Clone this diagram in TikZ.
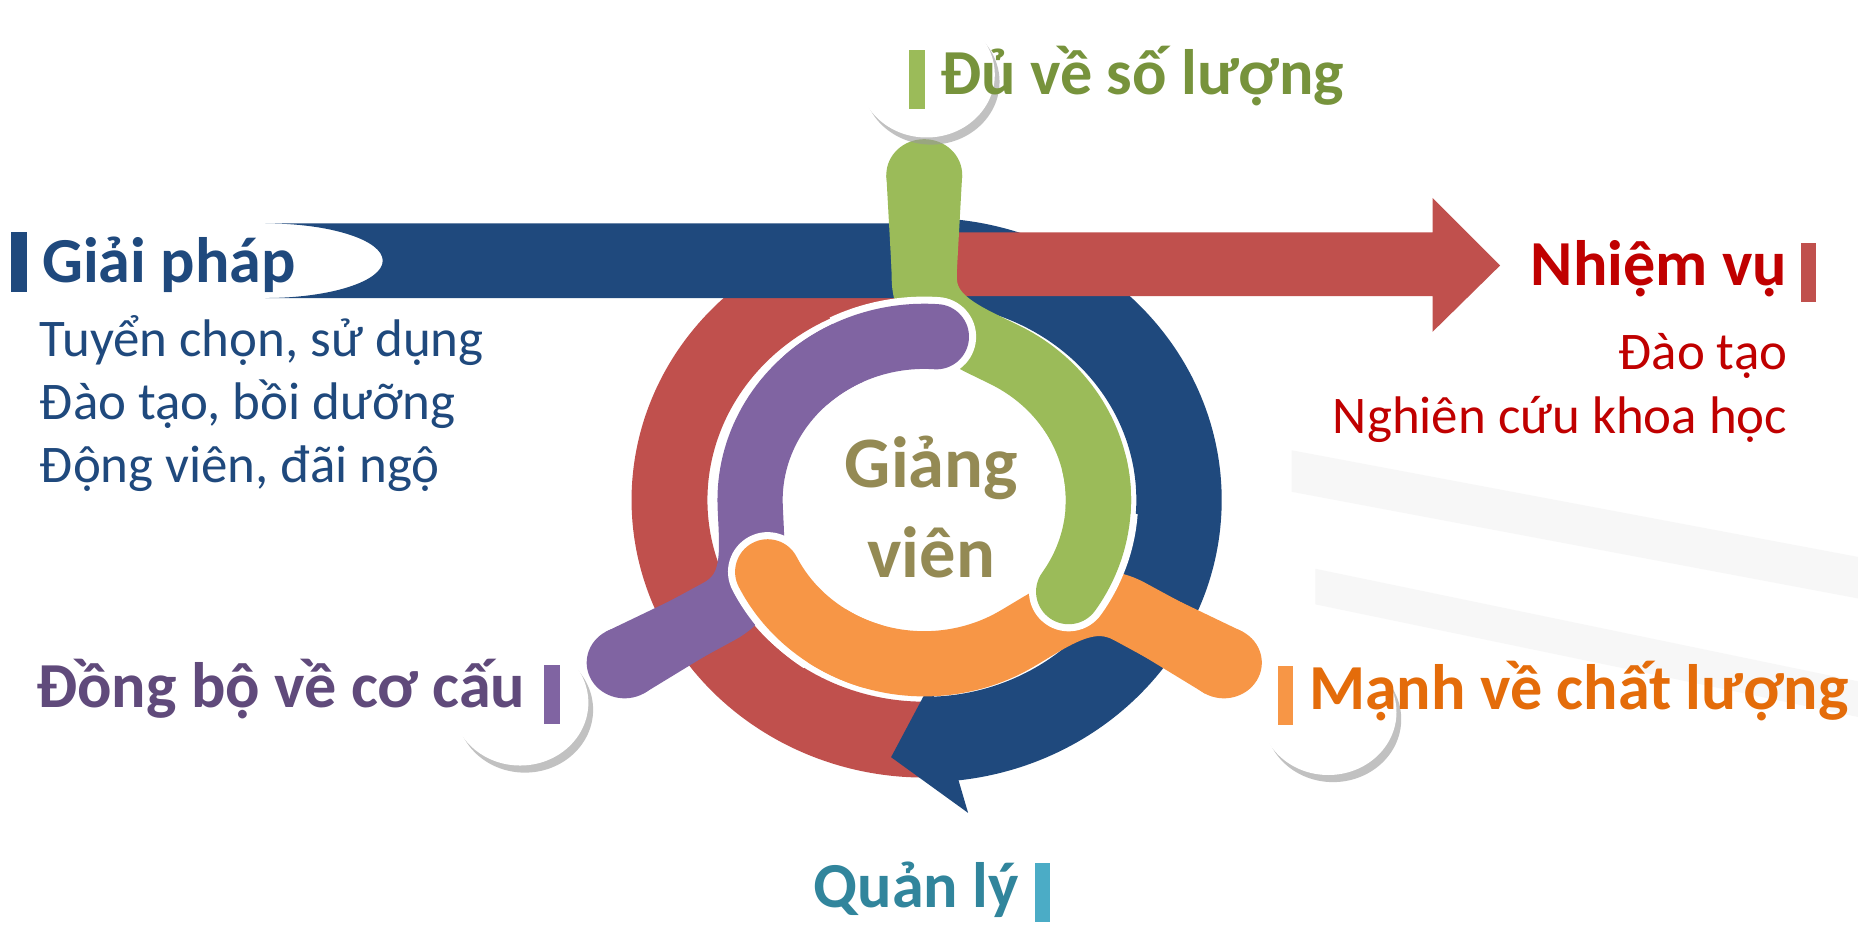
\documentclass[tikz,border=0pt]{standalone}
\usepackage{fontspec}
\setmainfont{Carlito}
\usepackage{tikz}
\usetikzlibrary{positioning, calc}
\usetikzlibrary{shapes.geometric, shadows}

\definecolor{bandblue}{HTML}{1F497D}
\definecolor{bandred}{HTML}{C0504D}
\definecolor{hookgreen}{HTML}{9BBB59}
\definecolor{hookpurple}{HTML}{8064A2}
\definecolor{hookorange}{HTML}{F79646}
\definecolor{txtred}{HTML}{C00000}
\definecolor{txtgreen}{HTML}{77933C}
\definecolor{txtorange}{HTML}{E46C0A}
\definecolor{txtpurple}{HTML}{604A7B}
\definecolor{txtteal}{HTML}{31859C}
\definecolor{barteal}{HTML}{4BACC6}
\definecolor{txtolive}{HTML}{948A54}

\begin{document}
\begin{tikzpicture}[x=0.01cm, y=0.01cm]
	% rows (y of baselines)
	\def \toprow{-80}
	\def \bandrow{-238}
	\def \tagrow{-597}
	\def \footrow{-766}

	\tikzstyle{head}=[font=\fontsize{15.4pt}{18pt}\selectfont\bfseries, inner sep=0pt]
	\tikzstyle{body}=[font=\fontsize{12.7pt}{15pt}\selectfont, inner sep=0pt]
	\tikzstyle{core}=[font=\fontsize{17.4pt}{21.6pt}\selectfont\bfseries, inner sep=0pt, align=center, text=txtolive]
	\tikzstyle{bar}=[rectangle, inner sep=0pt, minimum width=0.13cm, minimum height=0.5cm]
	\tikzstyle{tag}=[ellipse, fill=white, inner sep=0pt, minimum width=1.15cm, minimum height=1.06cm,
		drop shadow={shadow xshift=0.04cm, shadow yshift=-0.06cm, fill=black!40, opacity=0.6}]
	\tikzstyle{hook}=[line width=0.55cm, line cap=round]
	\tikzstyle{rim}=[line width=0.67cm, line cap=round, draw=white]

	\useasboundingbox (0,0) rectangle (1568,-784);
	\fill[white] (0,0) rectangle (1568,-784);

	% faint background
	\fill[black!3] (1090,-380) -- (1568,-470) -- (1568,-505) -- (1090,-415) -- cycle;
	\fill[black!3] (1110,-480) -- (1568,-575) -- (1568,-605) -- (1110,-510) -- cycle;

	% red ring, then blue ring
	\begin{scope}[shift={(780,-422)}, yscale=0.94]
		\draw[bandred, line width=0.64cm] (-75:215) arc[start angle=-75, end angle=-270, radius=215];
		\draw[bandblue, line width=0.72cm] (90:215) arc[start angle=90, end angle=-88, radius=215];
	\end{scope}
	\fill[bandblue] (785,-577) -- (752,-639) -- (817,-686) -- cycle;
	\fill[bandblue] (224,-188.5) -- (786,-188.5) -- (786,-251.5) -- (224,-251.5)
		arc[start angle=-90, end angle=90, x radius=99, y radius=31.5] -- cycle;

	% red band over the blue ring
	\fill[bandred] (770,-196) -- (1209,-196) -- (1209,-167) -- (1266,-224) -- (1209,-280)
		-- (1209,-250) -- (770,-250) -- cycle;

	% hooks
	\begin{scope}[shift={(780,-422)}, yscale=0.94]
		\foreach \rot/\col in {0/hookgreen, 120/hookpurple, -120/hookorange} {
			\begin{scope}[rotate=\rot]
				\fill[\col] (-32,292) -- (32,292) -- (27.5,205) -- (-27.5,205) -- cycle;
				\fill[\col] (0,292) circle[radius=32];
				\draw[hook, draw=\col] (0,292) -- (0,200) to[out=-90, in=152] (62:147)
					arc[start angle=62, end angle=-34, radius=147];
			\end{scope}
		}
		% ends lie over the next tail
		\foreach \rot/\col in {0/hookgreen, 120/hookpurple, -120/hookorange} {
			\begin{scope}[rotate=\rot]
				\begin{scope}
					\clip (0,0) -- (-4:260) arc[start angle=-4, end angle=-64, radius=260] -- cycle;
					\draw[rim] (62:147) arc[start angle=62, end angle=-34, radius=147];
				\end{scope}
				\draw[hook, draw=\col] (12:147) arc[start angle=12, end angle=-34, radius=147];
			\end{scope}
		}
	\end{scope}

	\node[core] (core) at (786,-428) {Giảng\\viên};

	% tags
	\node[tag] (du-tag)	at (782,-63)	{};
	\node[tag] (manh-tag)	at (1121,-601)	{};
	\node[tag] (dong-tag)	at (439,-593)	{};

	\node[bar, fill=bandblue] 	(gp-bar)	at (16,-221)	{};
	\node[bar, fill=bandred] 	(nv-bar)	at (1526,-230)	{};
	\node[bar, fill=hookgreen] 	(du-bar)	at (774,-67)	{};
	\node[bar, fill=hookorange] (manh-bar)	at (1085,-587)	{};
	\node[bar, fill=hookpurple] (dong-bar)	at (466,-586)	{};
	\node[bar, fill=barteal] 	(ql-bar)	at (880,-753)	{};

	% labels
	\node[head, text=bandblue, anchor=base west] 	(gp)	at (35,\bandrow)	{Giải pháp};
	\node[body, text=bandblue, anchor=base west] 	(gp1)	at (33,-301)	{Tuyển chọn, sử dụng};
	\node[body, text=bandblue, anchor=base west] 	(gp2)	at (33,-354)	{Đào tạo, bồi dưỡng};
	\node[body, text=bandblue, anchor=base west] 	(gp3)	at (33,-407)	{Động viên, đãi ngộ};

	\node[head, text=txtred, anchor=base east] 	(nv)	at (1509,-241)	{Nhiệm vụ};
	\node[body, text=txtred, anchor=base east] 	(nv1)	at (1509,-312)	{Đào tạo};
	\node[body, text=txtred, anchor=base east] 	(nv2)	at (1509,-366)	{Nghiên cứu khoa học};

	\node[head, text=txtgreen, anchor=base west] 	(du)	at (793,\toprow)	{Đủ về số lượng};
	\node[head, text=txtorange, anchor=base west] 	(manh)	at (1104,-599)	{Mạnh về chất lượng};
	\node[head, text=txtpurple, anchor=base east] 	(dong)	at (444,\tagrow)	{Đồng bộ về cơ cấu};
	\node[head, text=txtteal, anchor=base west] 	(ql)	at (686,\footrow)	{Quản lý};
\end{tikzpicture}
\end{document}
